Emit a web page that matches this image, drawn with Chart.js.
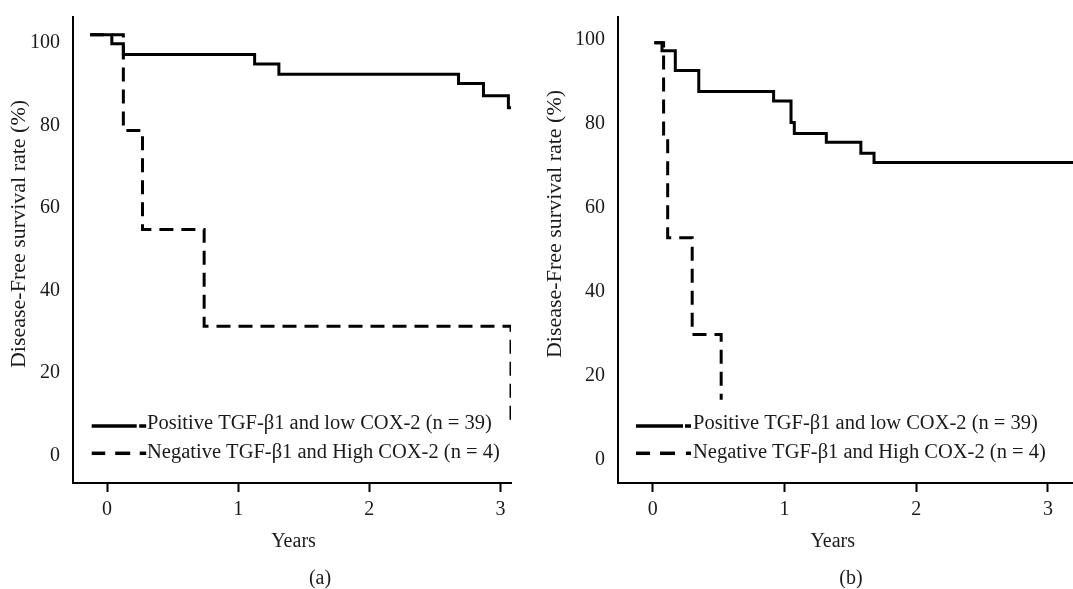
<!DOCTYPE html>
<html>
<head>
<meta charset="utf-8">
<script src="https://cdn.jsdelivr.net/npm/chart.js@4.4.0/dist/chart.umd.min.js"></script>
<style>
  html, body { margin: 0; padding: 0; background: #fff; }
  body { width: 1073px; height: 589px; position: relative; overflow: hidden; }
  canvas { position: absolute; top: 0; }
  #cA { left: 0; }
  #cB { left: 540px; }
</style>
</head>
<body>
<canvas id="cA" width="540" height="589"></canvas>
<canvas id="cB" width="533" height="589"></canvas>
<script>
// ---------- data ----------
const seriesLabels = ["Positive TGF-β1 and low COX-2 (n = 39)", "Negative TGF-β1 and High COX-2 (n = 4)"];
const xTickValues = [0, 1, 2, 3];
const yTickValues = [0, 20, 40, 60, 80, 100];
const xTitle = "Years";
const yTitle = "Disease-Free survival rate (%)";
const captions = ["(a)", "(b)"];

// panel (a)
const aPosYears = [-0.13, 0.036, 0.124, 1.125, 1.31, 2.68, 2.87, 3.06, 3.08];
const aPosRate  = [102, 99.8, 97.2, 94.9, 92.4, 90.2, 87.2, 84.3, 84.3];
const aNegYears = [-0.13, 0.124, 0.27, 0.74, 3.08];
const aNegRate  = [102, 78.8, 54.8, 31.3, 8.0];

// panel (b)
const bPosYears = [0.013, 0.071, 0.172, 0.35, 0.918, 1.05, 1.075, 1.318, 1.58, 1.68, 3.19];
const bPosRate  = [99.2, 97.3, 92.6, 87.6, 85.3, 80.2, 77.6, 75.5, 72.9, 70.7, 70.7];
const bNegYears = [0.013, 0.083, 0.114, 0.30, 0.52];
const bNegRate  = [99.2, 76.6, 52.8, 29.8, 14.3];

// ---------- helpers ----------
const FONT = '"Liberation Serif", "Times New Roman", serif';
const TXT = '#1a1a1a';
const toXY = (xs, ys) => xs.map((x, i) => ({ x: x, y: ys[i] }));

const annot = {
  id: 'annot',
  afterDraw(chart, args, o) {
    const ctx = chart.ctx;
    ctx.save();
    ctx.fillStyle = TXT;
    ctx.textAlign = 'center';
    ctx.textBaseline = 'middle';
    ctx.font = '20px ' + FONT;
    ctx.fillText(xTitle, o.xTitleX, o.xTitleY);
    ctx.fillText(o.caption, o.capX, o.capY);
    ctx.save();
    ctx.translate(o.yTitleX, o.yTitleY);
    ctx.rotate(-Math.PI / 2);
    ctx.font = '22px ' + FONT;
    ctx.fillText(yTitle, 0, 0);
    ctx.restore();
    // legend
    chart.data.datasets.forEach((ds, i) => {
      const y = o.legendY[i];
      ctx.strokeStyle = '#000';
      ctx.lineWidth = 3.5;
      ctx.setLineDash([]);
      o.legendSegs[i].forEach(([a, b]) => {
        ctx.beginPath();
        ctx.moveTo(o.legendX + a, y);
        ctx.lineTo(o.legendX + b, y);
        ctx.stroke();
      });
      ctx.textAlign = 'left';
      ctx.font = '20.5px ' + FONT;
      ctx.fillText(ds.label, o.textX, o.legendTextY[i]);
    });
    ctx.restore();
  }
};

function makeChart(id, pos, neg, sc, pad, yW, ann) {
  return new Chart(document.getElementById(id), {
    type: 'line',
    data: {
      datasets: [
        { label: seriesLabels[0], data: pos, borderColor: '#000', borderWidth: 3,
          stepped: true, pointRadius: 0, fill: false, tension: 0 },
        { label: seriesLabels[1], data: neg, borderColor: '#000', borderWidth: 3,
          borderDash: [14, 8], stepped: true, pointRadius: 0, fill: false, tension: 0 }
      ]
    },
    options: {
      responsive: false,
      animation: false,
      devicePixelRatio: 1,
      layout: { padding: pad },
      plugins: { legend: { display: false }, tooltip: { enabled: false }, annot: ann },
      scales: {
        x: {
          type: 'linear', min: sc.xmin, max: sc.xmax,
          afterBuildTicks: s => { s.ticks = xTickValues.map(v => ({ value: v })); },
          afterFit: s => { s.height = 106; },
          grid: { display: true, drawOnChartArea: false, drawTicks: true, tickLength: 9,
                  tickWidth: 2, tickColor: '#000', color: '#000' },
          border: { display: true, color: '#000', width: 2 },
          ticks: { padding: 6, color: TXT, font: { family: FONT, size: 20 },
                   maxRotation: 0, callback: v => String(v) }
        },
        y: {
          type: 'linear', min: sc.ymin, max: sc.ymax,
          afterBuildTicks: s => { s.ticks = yTickValues.map(v => ({ value: v })); },
          afterFit: s => { s.width = yW; },
          grid: { display: false },
          border: { display: true, color: '#000', width: 2 },
          ticks: { padding: 5, color: TXT, font: { family: FONT, size: 20 },
                   callback: v => String(v) }
        }
      }
    },
    plugins: [annot]
  });
}

makeChart('cA', toXY(aPosYears, aPosRate), toXY(aNegYears, aNegRate),
  { xmin: -0.26, xmax: 3.08, ymin: -6.7, ymax: 106.3 },
  { left: 0, right: 29, top: 14, bottom: 0 }, 73,
  { xTitleX: 293.5, xTitleY: 542, caption: captions[0], capX: 320, capY: 579,
    yTitleX: 19, yTitleY: 234,
    legendX: 91.7, legendY: [426, 453.3], legendTextY: [424, 453], textX: 147,
    legendSegs: [[[0, 45], [47.5, 54.5]], [[0, 13.5], [23.5, 38.5], [48, 54.5]]] });

makeChart('cB', toXY(bPosYears, bPosRate), toXY(bNegYears, bNegRate),
  { xmin: -0.263, xmax: 3.19, ymin: -5.5, ymax: 105.3 },
  { left: 0, right: 0, top: 14, bottom: 0 }, 78,
  { xTitleX: 292.7, xTitleY: 542, caption: captions[1], capX: 311, capY: 579,
    yTitleX: 15, yTitleY: 224,
    legendX: 96, legendY: [426, 453.3], legendTextY: [424, 453], textX: 153,
    legendSegs: [[[0, 47], [49, 55]], [[0, 14], [24, 39], [50, 55]]] });
</script>
</body>
</html>
